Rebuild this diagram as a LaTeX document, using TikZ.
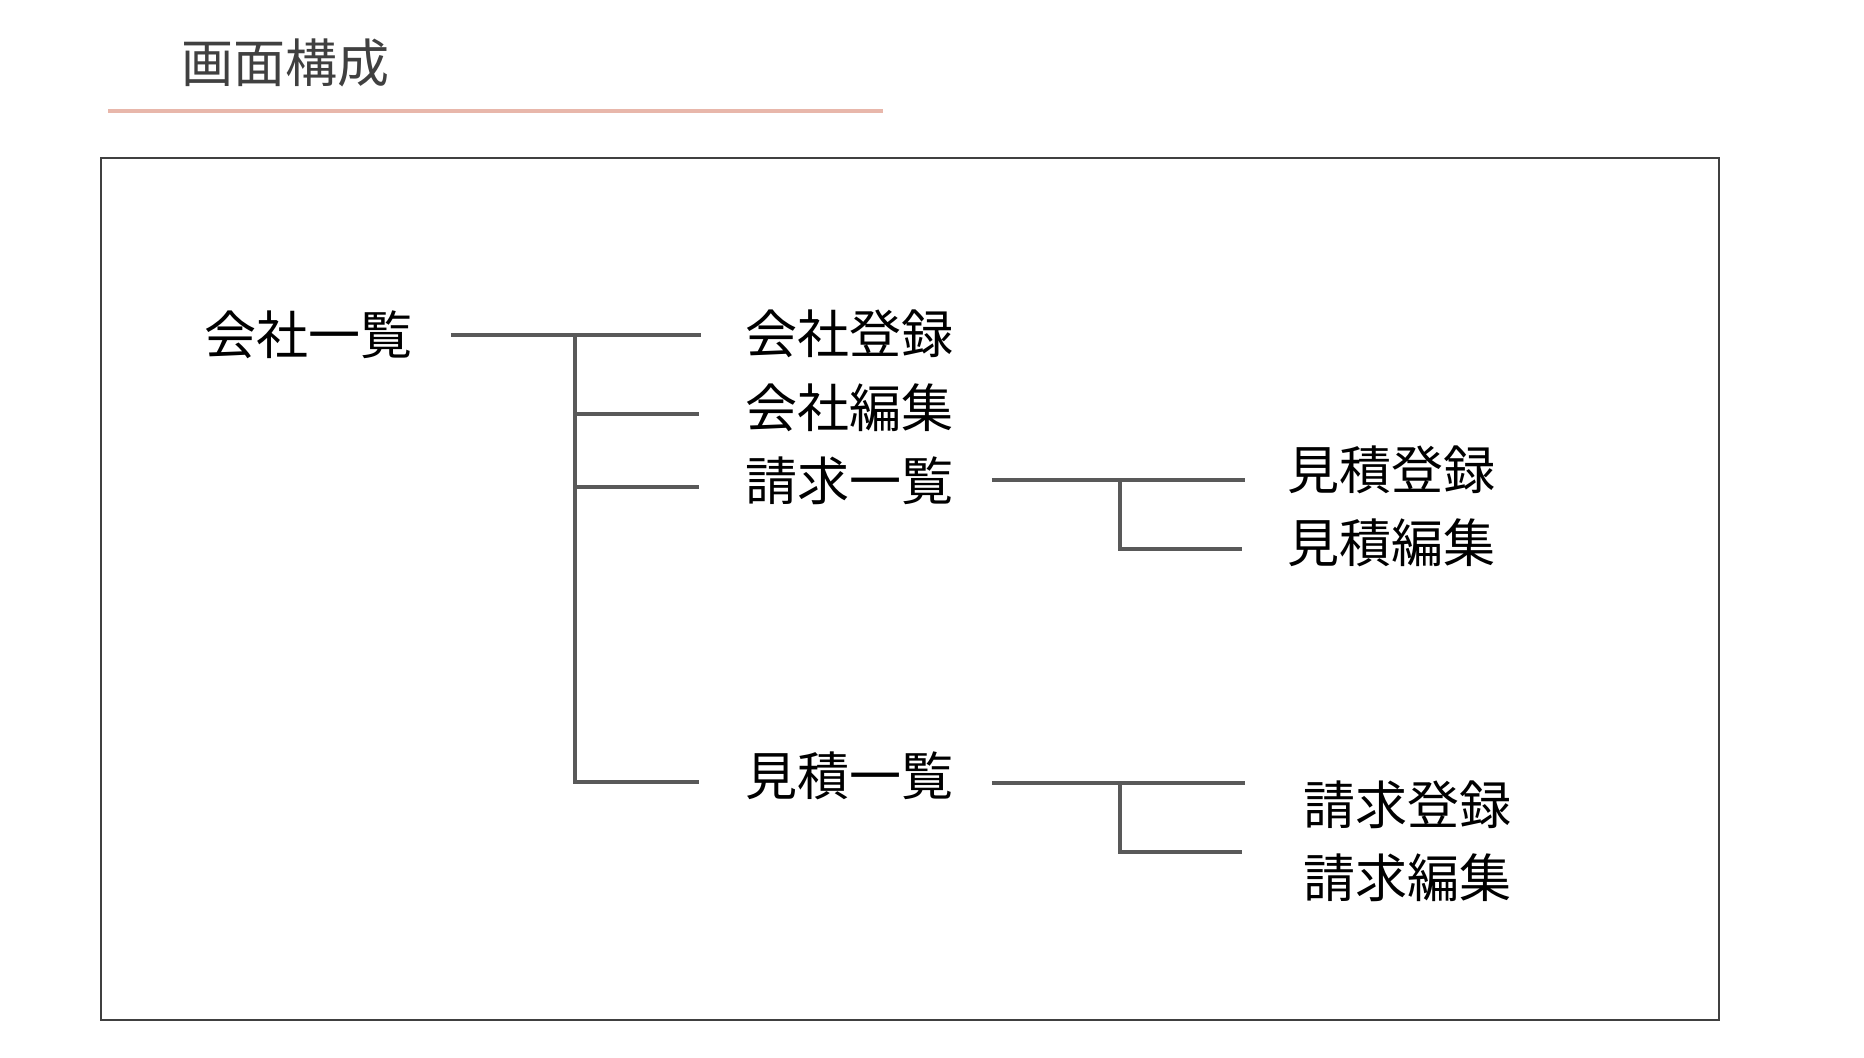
\documentclass[tikz,border=0pt]{standalone}
\usepackage{fontspec}
\setmainfont{Noto Sans CJK JP}
\definecolor{titlegray}{HTML}{404040}
\definecolor{linegray}{HTML}{595959}
\definecolor{rulepink}{HTML}{E8B7AB}
\begin{document}
\begin{tikzpicture}[x=0.5pt, y=-0.5pt,
  lbl/.style={anchor=west, inner xsep=19pt, inner ysep=0pt, font=\fontsize{26pt}{30pt}\selectfont},
  link/.style={draw=linegray, line width=1.9pt}]
\useasboundingbox (0,0) rectangle (1864,1057);
% heading
\node[lbl, text=titlegray] (title) at (143,63){画面構成};
\draw[rulepink, line width=1.8pt](108,111) -- (883,111);
\draw[draw=titlegray, line width=1.1pt](101,158) rectangle (1719,1020);
% first level
\node[lbl] (root) at (166,335){会社一覧};
\node[lbl] (c1) at (707,334){会社登録};
\node[lbl] (c2) at (707,408){会社編集};
\node[lbl] (c3) at (707,481){請求一覧};
\node[lbl] (c4) at (707,776){見積一覧};
\coordinate (j0) at (575,335);
\coordinate (j1) at (575,414);
\coordinate (j2) at (575,487);
\coordinate (j3) at (575,782);
\coordinate (t0) at (701,335);
\coordinate (t1) at (699,414);
\coordinate (t2) at (699,487);
\coordinate (t3) at (699,782);
\draw[link](root.east) -- (t0);
\draw[link](j0) -- (j3) -- (t3);
\draw[link](j1) -- (t1);
\draw[link](j2) -- (t2);
% second level
\node[lbl] (s1a) at (1249,470){見積登録};
\node[lbl] (s1b) at (1249,543){見積編集};
\node[lbl] (s2a) at (1265,805){請求登録};
\node[lbl] (s2b) at (1265,878){請求編集};
\coordinate (k0) at (1120,480);
\coordinate (k1) at (1120,549);
\coordinate (r0) at (1245,480);
\coordinate (r1) at (1242,549);
\draw[link](c3.east |- k0) -- (r0);
\draw[link](k0) -- (k1) -- (r1);
\coordinate (l0) at (1120,783);
\coordinate (l1) at (1120,852);
\coordinate (q0) at (1245,783);
\coordinate (q1) at (1242,852);
\draw[link](c4.east |- l0) -- (q0);
\draw[link](l0) -- (l1) -- (q1);
\end{tikzpicture}
\end{document}
